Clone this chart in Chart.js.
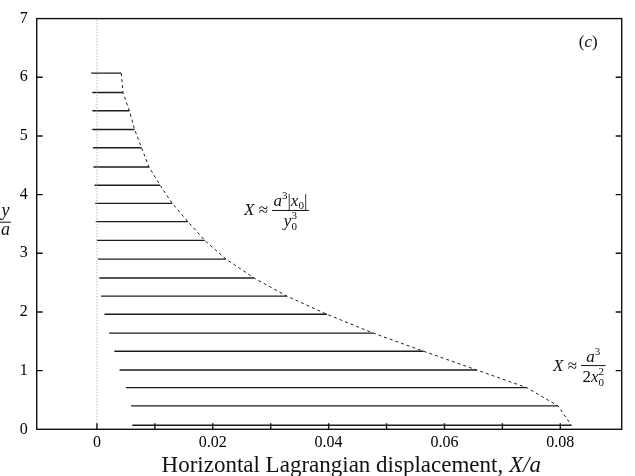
<!DOCTYPE html>
<html lang="en">
<head>
    <meta charset="UTF-8">
    <title>Horizontal Lagrangian displacement</title>
    <script src="https://cdn.jsdelivr.net/npm/chart.js"></script>
    <style>
        body { margin: 0; background: #fff; }
    </style>
</head>
<body>
<canvas id="myChart" width="635" height="476"></canvas>
<script>
    // starting height y0/a of each row of particles
    const yLevels = [6.07, 5.74, 5.43, 5.11, 4.80, 4.47, 4.16, 3.85, 3.54, 3.22,
        2.90, 2.58, 2.27, 1.96, 1.64, 1.33, 1.01, 0.71, 0.40, 0.07];
    // where each row starts and ends, X/a
    const xStart = [-0.0010, -0.0008, -0.0008, -0.0008, -0.0007, -0.0006, -0.0004, -0.0003, -0.0002, 0.0000,
        0.0002, 0.0004, 0.0007, 0.0013, 0.0021, 0.0030, 0.0039, 0.0050, 0.0059, 0.0061];
    const xEnd = [0.0042, 0.0045, 0.0056, 0.0065, 0.0077, 0.0090, 0.0109, 0.0130, 0.0157, 0.0186,
        0.0223, 0.0271, 0.0328, 0.0397, 0.0477, 0.0564, 0.0656, 0.0742, 0.0796, 0.0819];

    const xTicks = [0, 0.01, 0.02, 0.03, 0.04, 0.05, 0.06, 0.07, 0.08];
    const xTickLabels = ['0', '', '0.02', '', '0.04', '', '0.06', '', '0.08'];
    const yTicks = [0, 1, 2, 3, 4, 5, 6, 7];
    const yTickLabels = ['0', '1', '2', '3', '4', '5', '6', '7'];

    const FONT = 'Liberation Serif';
    const ink = '#1c1c1c';

    const datasets = [];
    // dotted line at X = 0
    datasets.push({
        data: [{x: 0, y: yTicks[0]}, {x: 0, y: yTicks[yTicks.length - 1]}],
        borderColor: '#9a9a9a', borderWidth: 1, borderDash: [1, 2]
    });
    for (let i = 0; i < yLevels.length; i++) {
        datasets.push({
            data: [{x: xStart[i], y: yLevels[i]}, {x: xEnd[i], y: yLevels[i]}],
            borderColor: ink, borderWidth: 1.4
        });
    }
    // dashed envelope through the row ends
    datasets.push({
        data: yLevels.map((y, i) => ({x: xEnd[i], y: y})),
        borderColor: ink, borderWidth: 1, borderDash: [3, 3]
    });

    function setFont(ctx, r) {
        ctx.font = (r.it ? 'italic ' : '') + (r.s ? 11 : 17) + 'px "' + FONT + '"';
    }

    function runsWidth(ctx, runs) {
        let w = 0;
        runs.forEach(r => {
            setFont(ctx, r);
            if (!r.stay) w += ctx.measureText(r.t).width;
        });
        return w;
    }

    function drawRuns(ctx, runs, x, y) {
        runs.forEach(r => {
            setFont(ctx, r);
            ctx.fillText(r.t, x, y + (r.dy || 0));
            if (!r.stay) x += ctx.measureText(r.t).width;
        });
    }

    function drawFrac(ctx, lhs, num, den, cx, cy) {
        const wn = runsWidth(ctx, num), wd = runsWidth(ctx, den);
        const bw = Math.max(wn, wd) + 3;
        ctx.beginPath();
        ctx.moveTo(cx - bw / 2, cy);
        ctx.lineTo(cx + bw / 2, cy);
        ctx.lineWidth = 1;
        ctx.stroke();
        drawRuns(ctx, num, cx - wn / 2, cy - 4);
        drawRuns(ctx, den, cx - wd / 2, cy + 16);
        const wl = runsWidth(ctx, lhs);
        drawRuns(ctx, lhs, cx - bw / 2 - 4 - wl, cy + 5);
    }

    const decor = {
        id: 'decor',
        afterDraw(chart) {
            const ctx = chart.ctx;
            const a = chart.chartArea;
            const xs = chart.scales.x, ys = chart.scales.y;
            ctx.save();
            ctx.strokeStyle = '#111';
            ctx.fillStyle = '#111';
            ctx.textAlign = 'left';
            ctx.textBaseline = 'alphabetic';

            // frame and inward ticks
            ctx.lineWidth = 1.4;
            ctx.strokeRect(a.left, a.top, a.right - a.left, a.bottom - a.top);
            ctx.beginPath();
            xTicks.forEach(v => {
                const px = xs.getPixelForValue(v);
                ctx.moveTo(px, a.bottom);
                ctx.lineTo(px, a.bottom - 6);
            });
            yTicks.slice(1, -1).forEach(v => {
                const py = ys.getPixelForValue(v);
                ctx.moveTo(a.left, py);
                ctx.lineTo(a.left + 6, py);
                ctx.moveTo(a.right, py);
                ctx.lineTo(a.right - 6, py);
            });
            ctx.stroke();

            // y/a fraction on the left
            ctx.font = 'italic 18px "' + FONT + '"';
            ctx.textAlign = 'center';
            const fy = ys.getPixelForValue(3.53);
            ctx.fillText('y', 5.5, fy - 6);
            ctx.fillText('a', 5.5, fy + 13);
            ctx.lineWidth = 1;
            ctx.beginPath();
            ctx.moveTo(0, fy);
            ctx.lineTo(11, fy);
            ctx.stroke();
            ctx.textAlign = 'left';

            // x axis title
            const t1 = 'Horizontal Lagrangian displacement, ';
            const t2 = 'X/a';
            ctx.font = '23px "' + FONT + '"';
            const w1 = ctx.measureText(t1).width;
            ctx.font = 'italic 23px "' + FONT + '"';
            const w2 = ctx.measureText(t2).width;
            const tx = (a.left + a.right) / 2 + 22 - (w1 + w2) / 2;
            ctx.font = '23px "' + FONT + '"';
            ctx.fillText(t1, tx, 472);
            ctx.font = 'italic 23px "' + FONT + '"';
            ctx.fillText(t2, tx + w1, 472);

            // panel label
            drawRuns(ctx, [{t: '('}, {t: 'c', it: true}, {t: ')'}],
                xs.getPixelForValue(0.0832), ys.getPixelForValue(6.52));

            // asymptotic forms
            drawFrac(ctx,
                [{t: 'X', it: true}, {t: ' ≈'}],
                [{t: 'a', it: true}, {t: '3', s: true, dy: -7}, {t: '|'}, {t: 'x', it: true}, {t: '0', s: true, dy: 3}, {t: '|'}],
                [{t: 'y', it: true}, {t: '3', s: true, dy: -7, stay: true}, {t: '0', s: true, dy: 4}],
                xs.getPixelForValue(0.0334), ys.getPixelForValue(3.73));
            drawFrac(ctx,
                [{t: 'X', it: true}, {t: ' ≈'}],
                [{t: 'a', it: true}, {t: '3', s: true, dy: -7}],
                [{t: '2'}, {t: 'x', it: true}, {t: '2', s: true, dy: -7, stay: true}, {t: '0', s: true, dy: 4}],
                xs.getPixelForValue(0.0857), ys.getPixelForValue(1.086));
            ctx.restore();
        }
    };

    const myChart = new Chart(document.getElementById('myChart'), {
        type: 'scatter',
        data: {datasets: datasets},
        options: {
            responsive: false,
            animation: false,
            layout: {padding: {left: 0, top: 10.5, right: 13.3, bottom: 0}},
            elements: {point: {radius: 0}, line: {tension: 0}},
            datasets: {scatter: {showLine: true, fill: false}},
            plugins: {legend: {display: false}, tooltip: {enabled: false}},
            scales: {
                x: {
                    type: 'linear',
                    min: -0.0104,
                    max: 0.0906,
                    grid: {display: false, drawTicks: false},
                    border: {display: false},
                    afterBuildTicks: s => { s.ticks = xTicks.map(v => ({value: v})); },
                    afterFit: s => { s.height = 46.7; },
                    ticks: {
                        autoSkip: false, maxRotation: 0, padding: 4, color: '#000',
                        font: {family: FONT, size: 16},
                        callback: (v, i) => xTickLabels[i]
                    }
                },
                y: {
                    type: 'linear',
                    min: 0,
                    max: 7,
                    grid: {display: false, drawTicks: false},
                    border: {display: false},
                    afterBuildTicks: s => { s.ticks = yTicks.map(v => ({value: v})); },
                    afterFit: s => { s.width = 36.7; },
                    ticks: {
                        autoSkip: false, padding: 9, color: '#000',
                        font: {family: FONT, size: 16},
                        callback: (v, i) => yTickLabels[i]
                    }
                }
            }
        },
        plugins: [decor]
    });
</script>
</body>
</html>
